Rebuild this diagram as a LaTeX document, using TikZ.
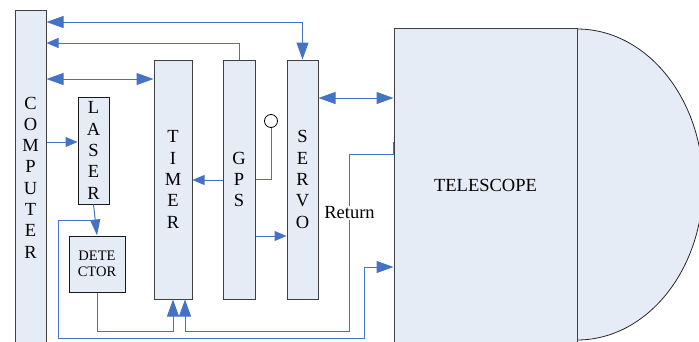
\documentclass[tikz,border=0pt]{standalone}
\usepackage{fontspec}
\setmainfont{Liberation Serif}
\usetikzlibrary{arrows.meta}

\definecolor{wire}{RGB}{68,114,196}
\definecolor{panel}{RGB}{230,236,246}
\definecolor{edge}{RGB}{64,64,64}

\tikzset{
  BigHead/.tip={Triangle[length=17pt,width=12pt]},
  MidHead/.tip={Triangle[length=16pt,width=10pt]},
  SmallHead/.tip={Triangle[length=12pt,width=10pt]},
  unit/.style={draw=edge, line width=1pt, fill=panel, inner sep=0pt,
    align=center, font=\fontsize{18.5}{21.3}\selectfont},
  wire/.style={draw=wire, line width=1pt, color=wire},
}

\begin{document}
\begin{tikzpicture}[x=1pt,y=-1pt]
\useasboundingbox (0,0) rectangle (699,341);
\clip (0,0) rectangle (699,341);

% dome of the telescope
\filldraw[fill=panel, draw=black!85, line width=0.8pt]
  (577,29) arc[start angle=90, end angle=-90, x radius=126pt, y radius=155.5pt] -- cycle;

% units
\node[unit, minimum width=31pt, minimum height=335pt] (computer) at (30.5,177.5)
  {C\\O\\M\\P\\U\\T\\E\\R};
\node[unit, draw=black!90, minimum width=31pt, minimum height=107pt] (laser) at (93.5,150.5)
  {L\\A\\S\\E\\R};
\node[unit, minimum width=38pt, minimum height=239pt] (timer) at (173,179.5)
  {T\\I\\M\\E\\R};
\node[unit, minimum width=32pt, minimum height=239pt] (gps) at (239,179.5)
  {G\\P\\S};
\node[unit, minimum width=31pt, minimum height=239pt] (servo) at (302.5,179.5)
  {S\\E\\R\\V\\O};
\node[unit, draw=black!90, minimum width=56pt, minimum height=56pt,
  font=\fontsize{14.5}{15.5}\selectfont] (detector) at (97,264) {DETE\\CTOR};
\node[unit, minimum width=183pt, minimum height=314pt] (telescope) at (485.5,185)
  {TELESCOPE};

% GPS antenna
\node[circle, draw=black, line width=0.8pt, fill=white, minimum size=13pt,
  inner sep=0pt] (ant) at (271,121) {};
\draw[wire] (ant.south) |- (gps.east |- 0,179);

% data and control links
\draw[wire, BigHead-BigHead] (computer.east |- 0,22) -| (servo.north);
\draw[wire, -SmallHead] (gps.north) |- (computer.east |- 0,43);
\draw[wire, BigHead-BigHead] (computer.east |- 0,79) -- (timer.west |- 0,79);
\draw[wire, -SmallHead] (computer.east |- 0,142) -- (laser.west |- 0,142);
\draw[wire, -SmallHead] (gps.west |- 0,180) -- (timer.east |- 0,180);
\draw[wire, -SmallHead] (gps.east |- 0,236) -- (servo.west |- 0,236);
\draw[wire, BigHead-BigHead] (servo.east |- 0,98) -- (telescope.west |- 0,98);

% laser path
\draw[wire, -MidHead] (laser.south) -- (detector.north);
\coordinate (tap) at (95.2,220);
\draw[wire, -BigHead] (tap) -- (58,220) -- (58,338) -| (364,267)
  -- (telescope.west |- 0,267);

% start and return pulses to the timer
\draw[wire, -BigHead] (detector.south) |- (timer.south |- 0,331) -- (timer.south);
\coordinate (rtn) at (349,331);
\draw[wire, -BigHead] (telescope.west |- 0,142) -- (telescope.west |- 0,154)
  -| (rtn) -| ([xshift=12pt]timer.south);
\node[fill=white, inner sep=1pt, font=\fontsize{18.5}{20}\selectfont] (ret)
  at (349.5,213) {Return};
\end{tikzpicture}
\end{document}
